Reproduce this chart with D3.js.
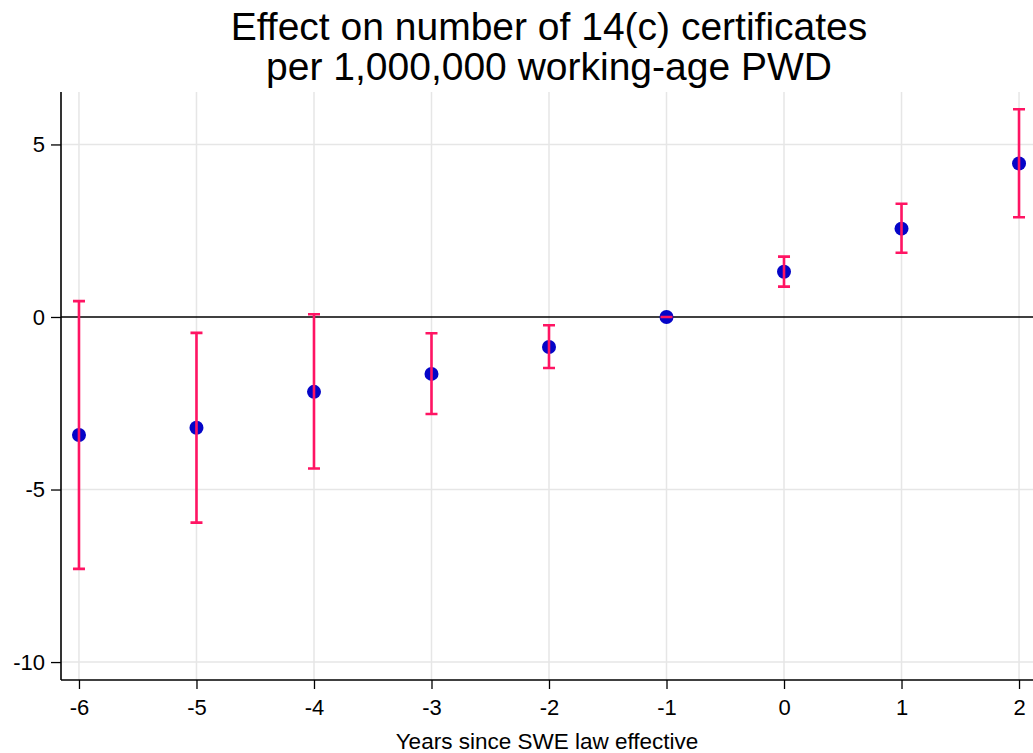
<!DOCTYPE html>
<html>
<head>
<meta charset="utf-8">
<script src="https://cdn.jsdelivr.net/npm/d3@7"></script>
<style>
  html, body { margin: 0; padding: 0; background: #fff; }
  svg { display: block; font-family: "Liberation Sans", Arial, Helvetica, sans-serif; }
</style>
</head>
<body>
<svg id="chart" width="1033" height="753"></svg>
<script>
// Event-study estimates: years relative to the law taking effect
const years = [-6, -5, -4, -3, -2, -1, 0, 1, 2];
const estimates = [-3.42, -3.21, -2.17, -1.65, -0.87, 0, 1.31, 2.56, 4.45];
const ciLower = [-7.30, -5.96, -4.39, -2.81, -1.48, 0, 0.88, 1.86, 2.89];
const ciUpper = [0.46, -0.46, 0.08, -0.47, -0.24, 0, 1.75, 3.28, 6.02];
const yTicks = [5, 0, -5, -10];
const xTicks = [-6, -5, -4, -3, -2, -1, 0, 1, 2];
const titleLines = ["Effect on number of 14(c) certificates", "per 1,000,000 working-age PWD"];
const xTitle = "Years since SWE law effective";

const svg = d3.select("#chart");
const plot = { left: 61, right: 1037, top: 92, bottom: 680 };

const x = d3.scaleLinear().domain([-6.153, 2.153]).range([plot.left, plot.right]);
const y = d3.scaleLinear().domain([-10.52, 6.52]).range([plot.bottom, plot.top]);

const rows = years.map((yr, i) => ({ yr, est: estimates[i], lo: ciLower[i], hi: ciUpper[i] }));

// Plain hyphen-minus labels
const fmt = d => String(d);

// Light grid lines
const grid = svg.append("g");
grid.selectAll("line.gx").data(xTicks).join("line")
  .attr("x1", d => x(d)).attr("x2", d => x(d))
  .attr("y1", plot.top).attr("y2", plot.bottom)
  .attr("stroke", "#e6e6e6").attr("stroke-width", 1.5);
grid.selectAll("line.gy").data(yTicks.filter(d => d !== 0)).join("line")
  .attr("x1", plot.left).attr("x2", plot.right)
  .attr("y1", d => y(d)).attr("y2", d => y(d))
  .attr("stroke", "#e6e6e6").attr("stroke-width", 1.5);

// Reference line at zero
svg.append("line")
  .attr("x1", plot.left).attr("x2", plot.right)
  .attr("y1", y(0)).attr("y2", y(0))
  .attr("stroke", "#000").attr("stroke-width", 1.6);

// Axes
const yAxis = d3.axisLeft(y).tickValues(yTicks).tickSize(10).tickPadding(6).tickFormat(fmt);
const xAxis = d3.axisBottom(x).tickValues(xTicks).tickSize(9).tickPadding(10).tickFormat(fmt);

const gy = svg.append("g").attr("transform", `translate(${plot.left},0)`).call(yAxis);
const gx = svg.append("g").attr("transform", `translate(0,${plot.bottom})`).call(xAxis);
[gx, gy].forEach(g => {
  g.select(".domain").attr("stroke", "#000").attr("stroke-width", 1.6);
  g.selectAll(".tick line").attr("stroke", "#000").attr("stroke-width", 1.3);
  g.selectAll(".tick text").attr("fill", "#000").attr("font-size", 22)
    .attr("font-family", "'Liberation Sans', Arial, sans-serif");
});
gx.select(".domain").attr("d", `M${plot.left},0H${plot.right}`);
gy.select(".domain").attr("d", `M0,${plot.top}V${plot.bottom}`);

// Point estimates
svg.append("g").selectAll("circle").data(rows).join("circle")
  .attr("cx", d => x(d.yr)).attr("cy", d => y(d.est)).attr("r", 7)
  .attr("fill", "#0505c8");

// Confidence intervals with caps
const pink = "#ff1463";
const ci = svg.append("g").attr("stroke", pink).attr("stroke-width", 2.6).attr("fill", "none");
ci.selectAll("path").data(rows).join("path")
  .attr("d", d => {
    const cx = x(d.yr), cap = 6;
    return `M${cx},${y(d.hi)}V${y(d.lo)}` +
           `M${cx - cap},${y(d.hi)}H${cx + cap}` +
           `M${cx - cap},${y(d.lo)}H${cx + cap}`;
  });

// Titles
svg.append("text")
  .attr("text-anchor", "middle")
  .attr("font-size", 39).attr("fill", "#000")
  .selectAll("tspan").data(titleLines).join("tspan")
  .attr("x", 549).attr("y", (d, i) => 40 + i * 40)
  .text(d => d);

svg.append("text")
  .attr("x", 547).attr("y", 749).attr("text-anchor", "middle")
  .attr("font-size", 22.5).attr("fill", "#000")
  .text(xTitle);
</script>
</body>
</html>
